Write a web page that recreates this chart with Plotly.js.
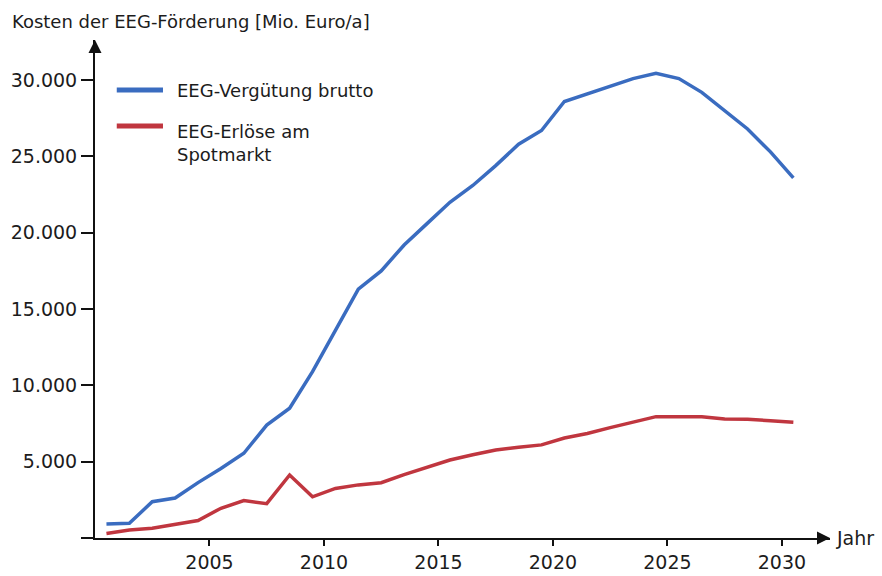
<!DOCTYPE html>
<html>
<head>
<meta charset="utf-8">
<script src="https://cdn.plot.ly/plotly-3.0.1.min.js"></script>
<style>html,body{margin:0;padding:0;background:#fff;}#chart{width:882px;height:576px;}</style>
</head>
<body>
<div id="chart"></div>
<script>
// Years (annual values plotted at mid-year)
const years = [2000.5,2001.5,2002.5,2003.5,2004.5,2005.5,2006.5,2007.5,2008.5,2009.5,
  2010.5,2011.5,2012.5,2013.5,2014.5,2015.5,2016.5,2017.5,2018.5,2019.5,
  2020.5,2021.5,2022.5,2023.5,2024.5,2025.5,2026.5,2027.5,2028.5,2029.5,2030.5];
// EEG-Vergütung brutto [Mio. Euro/a]
const verguetung = [920,960,2380,2620,3630,4550,5550,7400,8500,10900,
  13600,16300,17500,19200,20600,22000,23100,24400,25800,26700,
  28600,29100,29650,30100,30450,30100,29200,28000,26800,25300,23600];
// EEG-Erlöse am Spotmarkt [Mio. Euro/a]
const erloese = [300,520,640,900,1150,1950,2450,2250,4130,2700,
  3250,3480,3620,4150,4650,5110,5450,5770,5950,6100,
  6550,6850,7230,7600,7950,7950,7940,7800,7780,7680,7580];
const xTicks = [2005,2010,2015,2020,2025,2030];
const yTicks = [0,5000,10000,15000,20000,25000,30000];
const yTickText = ['','5.000','10.000','15.000','20.000','25.000','30.000'];
const seriesNames = ['EEG-Vergütung brutto','EEG-Erlöse am<br>Spotmarkt'];
const colors = ['#3a6cc0','#c0363f'];

const FONT = 'DejaVu Sans, Arial, sans-serif';
const TXT = '#1c1c1c';

const traces = [
  {x: years, y: verguetung, type:'scatter', mode:'lines', name: seriesNames[0],
   line:{color:colors[0], width:3.5}, showlegend:false},
  {x: years, y: erloese, type:'scatter', mode:'lines', name: seriesNames[1],
   line:{color:colors[1], width:3.5}, showlegend:false}
];

const xMax = 2032.1, yMax = 32630;

const layout = {
  width: 882, height: 576,
  margin: {l:95, r:52, t:40, b:38, pad:0},
  paper_bgcolor:'#ffffff', plot_bgcolor:'#ffffff',
  font: {family: FONT, color: TXT, size: 18},
  xaxis: {range:[2000, xMax], showgrid:false, zeroline:false,
    showline:true, linecolor:'#111', linewidth:2,
    ticks:'outside', ticklen:6, tickwidth:2, tickcolor:'#111',
    tickvals: xTicks, ticktext: xTicks.map(String),
    tickfont:{family:FONT, size:19, color:TXT}},
  yaxis: {range:[0, yMax], showgrid:false, zeroline:false,
    showline:true, linecolor:'#111', linewidth:2,
    ticks:'outside', ticklen:12, tickwidth:2, tickcolor:'#111',
    tickvals: yTicks, ticktext: yTickText,
    tickfont:{family:FONT, size:19, color:TXT}},
  shapes: [
    {type:'line', xref:'paper', yref:'paper', x0:0.0296, x1:0.0925, y0:(538-90)/498, y1:(538-90)/498,
     line:{color:colors[0], width:5}},
    {type:'line', xref:'paper', yref:'paper', x0:0.0296, x1:0.0925, y0:(538-126)/498, y1:(538-126)/498,
     line:{color:colors[1], width:5}}
  ],
  annotations: [
    {xref:'paper', yref:'paper', x:(10-95)/735, y:(538-22)/498, xanchor:'left', yanchor:'middle',
     text:'Kosten der EEG-Förderung [Mio. Euro/a]', showarrow:false,
     font:{family:FONT, size:18, color:TXT}},
    {xref:'paper', yref:'paper', x:(175-95)/735, y:(538-90)/498, xanchor:'left', yanchor:'middle',
     text: seriesNames[0], showarrow:false, font:{family:FONT, size:18, color:TXT}},
    {xref:'paper', yref:'paper', x:(175-95)/735, y:(538-143)/498, xanchor:'left', yanchor:'middle',
     text: seriesNames[1], align:'left', showarrow:false, font:{family:FONT, size:18, color:TXT}},
    {xref:'x', yref:'y', x:xMax, y:0, xshift:4, xanchor:'left', yanchor:'middle',
     text:'Jahr', showarrow:false, font:{family:FONT, size:19, color:TXT}},
    // axis arrowheads
    {xref:'x', yref:'y', x:xMax, y:0, ax:-14, ay:0, text:'', showarrow:true,
     arrowhead:2, arrowsize:1.3, arrowwidth:2, arrowcolor:'#111', standoff:0},
    {xref:'x', yref:'y', x:2000, y:yMax, ax:0, ay:14, text:'', showarrow:true,
     arrowhead:2, arrowsize:1.3, arrowwidth:2, arrowcolor:'#111', standoff:0}
  ]
};

Plotly.newPlot('chart', traces, layout, {displayModeBar:false, staticPlot:true});
</script>
</body>
</html>
